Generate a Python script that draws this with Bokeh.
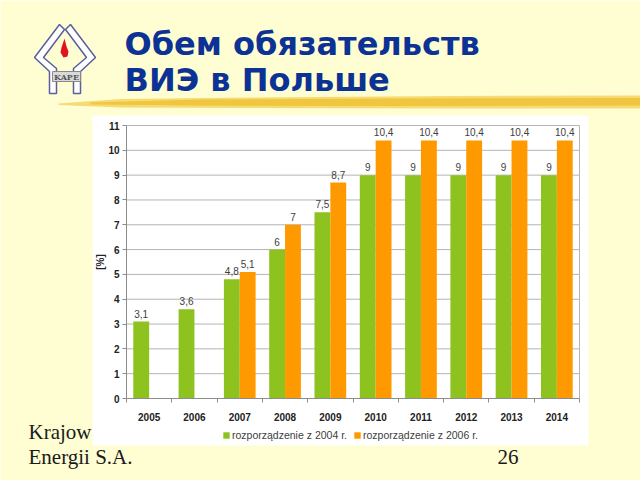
import math
from bokeh.plotting import figure
from bokeh.models import ColumnDataSource, Range1d, Legend, LegendItem, FixedTicker
from bokeh.transform import dodge
from bokeh.embed import file_html
from bokeh.resources import INLINE
from bokeh.core.properties import value

# ---------------- data ----------------
years = ["2005", "2006", "2007", "2008", "2009", "2010", "2011", "2012", "2013", "2014"]
quota_2004 = [3.1, 3.6, 4.8, 6, 7.5, 9, 9, 9, 9, 9]
quota_2006 = [None, None, 5.1, 7, 8.7, 10.4, 10.4, 10.4, 10.4, 10.4]
y_ticks = [0, 1, 2, 3, 4, 5, 6, 7, 8, 9, 10, 11]
y_label = "[%]"
series_names = ["rozporządzenie z 2004 r.", "rozporządzenie z 2006 r."]
title_lines = ["Обем обязательств", "ВИЭ в Польше"]
footer_lines = ["Krajow", "Energii S.A."]
page_number = "26"

# ---------------- page geometry (pixels) ----------------
W, H = 640, 480
PL, PR, PT, PB = 126, 579, 125, 398          # plot area of the chart
SLIDE = "#FFFDD2"
GREEN = "#8DC21F"
ORANGE = "#FF9900"
TITLE_BLUE = "#0B3294"
GRID = "#B5B5B5"
AXIS = "#8C8C8C"

n = len(years)
ymax = y_ticks[-1]
cw = (PR - PL) / n
upp = ymax / (PB - PT)


def fmt(v):
    return ("%g" % v).replace(".", ",")


idx = list(range(n))
src_a = ColumnDataSource(dict(i=idx, v=quota_2004, lab=[fmt(v) for v in quota_2004]))
ib = [i for i, v in zip(idx, quota_2006) if v is not None]
vb = [v for v in quota_2006 if v is not None]
src_b = ColumnDataSource(dict(i=ib, v=vb, lab=[fmt(v) for v in vb]))

p = figure(width=W, height=H,
           x_range=Range1d(-0.5 - PL / cw, n - 0.5 + (W - PR) / cw),
           y_range=Range1d(-(H - PB) * upp, ymax + PT * upp),
           output_backend="svg", toolbar_location=None, min_border=0,
           background_fill_color=SLIDE, border_fill_color=SLIDE, outline_line_color=None)
p.extra_x_ranges = {"page": Range1d(0, W)}
p.extra_y_ranges = {"page": Range1d(H, 0)}
PG = dict(x_range_name="page", y_range_name="page")

# white chart card (behind everything)
p.quad(left=[92], right=[588], top=[115], bottom=[445], fill_color="white",
       line_color=None, level="image", **PG)

# grid lines and plot border in chart coordinates
p.grid.visible = False
p.segment(x0=-0.5, x1=n - 0.5, y0=y_ticks, y1=y_ticks, line_color=GRID, line_width=1,
          level="underlay")
p.segment(x0=[n - 0.5], x1=[n - 0.5], y0=[0], y1=[ymax], line_color=GRID, line_width=1,
          level="underlay")

ra = p.vbar(x=dodge("i", -0.175), top="v", width=0.35, source=src_a,
            fill_color=GREEN, line_color=None)
rb = p.vbar(x=dodge("i", 0.175), top="v", width=0.35, source=src_b,
            fill_color=ORANGE, line_color=None)
for src, off in ((src_a, -0.175), (src_b, 0.175)):
    p.text(x=dodge("i", off), y="v", text="lab", source=src,
           text_font=value("Liberation Sans"), text_font_size="10px", text_color="#404040",
           text_align="center", text_baseline="bottom", y_offset=-4)

# axes pinned at the chart's plot area
p.yaxis.fixed_location = -0.5
p.yaxis.bounds = (0, ymax)
p.yaxis.ticker = y_ticks
p.yaxis.major_tick_out = 4
p.yaxis.major_tick_in = 0
p.yaxis.minor_tick_line_color = None
p.yaxis.major_label_standoff = 3
p.xaxis.fixed_location = 0
p.xaxis.bounds = (-0.5, n - 0.5)
p.xaxis.ticker = FixedTicker(ticks=idx, minor_ticks=[i - 0.5 for i in idx] + [n - 0.5])
p.xaxis.major_label_overrides = {i: y for i, y in zip(idx, years)}
p.xaxis.major_tick_out = 0
p.xaxis.major_tick_in = 0
p.xaxis.minor_tick_out = 4
p.xaxis.minor_tick_in = 0
p.xaxis.minor_tick_line_color = AXIS
p.xaxis.major_label_standoff = 10
p.axis.axis_line_color = AXIS
p.axis.major_tick_line_color = AXIS
p.axis.major_label_text_font = "Liberation Sans"
p.axis.major_label_text_font_style = "bold"
p.axis.major_label_text_font_size = "10px"
p.axis.major_label_text_color = "#222222"

# y axis title
p.text(x=[-0.5], y=[ymax / 2], text=[y_label], angle=math.pi / 2, x_offset=-26,
       text_font=value("Liberation Sans"), text_font_style="bold", text_font_size="10px",
       text_color="#222222", text_align="center", text_baseline="middle")

# legend below the axis
legend = Legend(items=[LegendItem(label=series_names[0], renderers=[ra]),
                       LegendItem(label=series_names[1], renderers=[rb])],
                orientation="horizontal", location=(222, 39),
                label_text_font="Liberation Sans", label_text_font_size="10.5px",
                label_text_color="#404040", glyph_width=8, glyph_height=8,
                label_height=10, label_standoff=2, spacing=6, padding=0, margin=0,
                border_line_color=None, background_fill_alpha=0)
p.add_layout(legend)

# ---------------- slide decoration (page coordinates) ----------------
# brush stroke under the title
p.patch([58, 120, 250, 450, 640, 640, 450, 250, 120, 58],
        [103, 98.5, 97, 95.5, 95, 108, 108, 107.5, 107, 104.5],
        fill_color="#F6DB74", line_color=None, **PG)
p.patch([90, 200, 400, 640, 640, 400, 200, 90],
        [102, 99, 98, 97.5, 105, 105.5, 105, 104],
        fill_color="#EFC236", fill_alpha=0.85, line_color=None, **PG)

# logo
p.patch([59, 34, 49, 49, 56, 56, 43, 64], [24, 57, 71, 93, 93, 68, 57, 29],
        fill_color="white", line_color="#5A5F9E", line_width=1.5, **PG)
p.patch([70, 95, 80, 80, 73, 73, 86, 65], [24, 57, 71, 93, 93, 68, 57, 29],
        fill_color="white", line_color="#5A5F9E", line_width=1.5, **PG)
p.patch([64, 61, 60, 63, 67, 68, 66], [38, 47, 52, 57, 56, 51, 46],
        fill_color="#E0141E", line_color=None, **PG)
p.quad(left=[52], right=[80], top=[71], bottom=[81], fill_color="#D9D9D9",
       line_color="#888888", **PG)
p.text(x=[66], y=[76], text=["KAPE"], text_font=value("DejaVu Serif"), text_font_size="8px",
       text_font_style="bold", text_color="#555555", text_align="center",
       text_baseline="middle", **PG)

# title
p.text(x=[124, 124], y=[43, 79], text=title_lines, text_font=value("DejaVu Sans"),
       text_font_size="32px", text_font_style="bold", text_color=TITLE_BLUE,
       text_align="left", text_baseline="alphabetic", **PG)

# footer
p.text(x=[28, 28, 497], y=[431, 456, 456], text=footer_lines + [page_number],
       text_font=value("Liberation Serif"), text_font_size="21px", text_color="#1A1A1A",
       text_align="left", text_baseline="alphabetic", **PG)

open("out.html", "w").write(file_html(p, INLINE))
